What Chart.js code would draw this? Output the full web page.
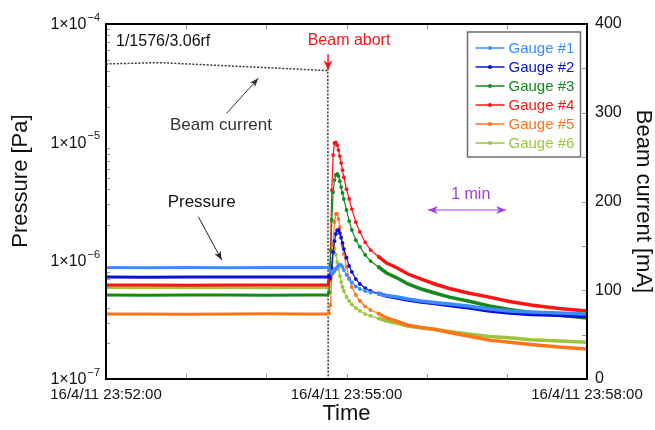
<!DOCTYPE html>
<html>
<head>
<meta charset="utf-8">
<script src="https://cdn.jsdelivr.net/npm/chart.js@4.4.1/dist/chart.umd.min.js"></script>
<style>
  html, body { margin: 0; padding: 0; background: #fff; }
  canvas { display: block; }
</style>
</head>
<body>
<canvas id="chartPressure" width="655" height="430" style="width:655px;height:430px"></canvas>
<script>
// ── Data: seconds after 16/4/11 23:52:00, pressures in units of 1e-7 Pa ──
const timeSec = [0, 30, 60, 90, 120, 150, 166,
  167, 168, 169, 170, 171, 172, 173, 174, 175, 176, 177, 178,
  180, 182, 184, 187, 190, 194, 198, 204, 210, 218, 226, 236, 246, 257, 271, 287, 302, 318, 339, 360];

const gaugeNames = ['Gauge #1', 'Gauge #2', 'Gauge #3', 'Gauge #4', 'Gauge #5', 'Gauge #6'];

const gauge1 = [8.74, 8.72, 8.75, 8.73, 8.74, 8.76, 8.74,
  8.66, 8.17, 7.86, 7.86, 8.17, 8.5, 8.83, 9.09, 9.27, 9.18, 8.83, 8.33,
  7.57, 6.99, 6.54, 6.05, 5.76, 5.54, 5.38, 5.23, 5.07, 4.93, 4.74, 4.56, 4.43, 4.31, 4.14, 3.90, 3.76, 3.69, 3.61, 3.54];
const gauge2 = [7.27, 7.25, 7.28, 7.26, 7.27, 7.29, 7.27,
  7.42, 7.13, 8.67, 11.8, 14.6, 16.8, 18.0, 18.2, 17.1, 15.6, 14.1, 12.6,
  10.6, 9.01, 8.02, 6.99, 6.35, 5.87, 5.54, 5.28, 5.03, 4.83, 4.65, 4.47, 4.35, 4.18, 3.99, 3.76, 3.61, 3.51, 3.45, 3.38];
const gauge3 = [5.12, 5.11, 5.13, 5.12, 5.10, 5.12, 5.12,
  5.43, 9.2, 22.1, 38, 48, 53, 54, 51.9, 47, 41.9, 37.3, 33.2,
  26.8, 21.6, 18.2, 14.9, 13.1, 11.2, 9.93, 8.84, 7.87, 7.13, 6.35, 5.76, 5.33, 4.92, 4.56, 4.14, 3.87, 3.65, 3.45, 3.28];
const gauge4 = [6.22, 6.23, 6.21, 6.22, 6.24, 6.22, 6.22,
  6.86, 12.3, 39.5, 78, 98.5, 100, 94.7, 86, 76.5, 66.8, 58.3, 50.8,
  40.2, 33.2, 27.3, 21.2, 17.5, 14.3, 12.3, 10.8, 9.55, 8.67, 7.71, 6.99, 6.35, 5.82, 5.33, 4.92, 4.52, 4.22, 3.94, 3.76];
const gauge5 = [3.54, 3.55, 3.53, 3.54, 3.56, 3.54, 3.54,
  3.61, 4.22, 7.57, 13.6, 21.2, 24.8, 24.8, 22.5, 19.2, 15.9, 13.3, 11.4,
  8.84, 7.13, 5.99, 5.12, 4.56, 4.10, 3.83, 3.58, 3.28, 3.06, 2.85, 2.73, 2.63, 2.47, 2.31, 2.13, 2.04, 1.96, 1.86, 1.79];
const gauge6 = [5.93, 5.92, 5.94, 5.93, 5.91, 5.93, 5.93,
  5.99, 6.86, 9.74, 12.3, 12.7, 11.2, 9.74, 8.5, 7.42, 6.6, 5.99, 5.54,
  4.93, 4.56, 4.26, 3.98, 3.76, 3.54, 3.41, 3.25, 3.09, 2.95, 2.80, 2.70, 2.62, 2.52, 2.40, 2.29, 2.23, 2.15, 2.09, 2.04];

// stored beam current [mA]
const beamTime    = [0, 40, 166, 166.3, 360];
const beamCurrent = [355, 356.5, 347.5, 0, 0];

// axis ticks
const xTickSec    = [0, 180, 360];
const xTickLabels = ['16/4/11 23:52:00', '16/4/11 23:55:00', '16/4/11 23:58:00'];
const pExponents  = [-7, -6, -5, -4];

const gaugeColors = ['#3c8cff', '#0b10d6', '#148a1e', '#ff1414', '#ff7419', '#9cc53b'];
const FONT = "'Liberation Sans', Arial, Helvetica, sans-serif";
const ABORT_SEC = 166.2;

const gaugeSeries = [gauge1, gauge2, gauge3, gauge4, gauge5, gauge6];

function arrowHead(ctx, x0, y0, x1, y1, len, half) {
  const a = Math.atan2(y1 - y0, x1 - x0);
  ctx.beginPath();
  ctx.moveTo(x1, y1);
  ctx.lineTo(x1 - len * Math.cos(a) + half * Math.sin(a), y1 - len * Math.sin(a) - half * Math.cos(a));
  ctx.lineTo(x1 - len * 0.7 * Math.cos(a), y1 - len * 0.7 * Math.sin(a));
  ctx.lineTo(x1 - len * Math.cos(a) - half * Math.sin(a), y1 - len * Math.sin(a) + half * Math.cos(a));
  ctx.closePath();
  ctx.fill();
}

function arrow(ctx, p0, p1, color, width, len, half, both) {
  ctx.strokeStyle = color; ctx.fillStyle = color; ctx.lineWidth = width;
  ctx.beginPath(); ctx.moveTo(p0[0], p0[1]); ctx.lineTo(p1[0], p1[1]); ctx.stroke();
  arrowHead(ctx, p0[0], p0[1], p1[0], p1[1], len, half);
  if (both) arrowHead(ctx, p1[0], p1[1], p0[0], p0[1], len, half);
}

// frame, inner ticks, exponent labels, annotations and legend
const decorPlugin = {
  id: 'decor',
  afterDraw(chart) {
    const { ctx, chartArea: a, scales } = chart;
    const sx = scales.x, sp = scales.y, sb = scales.y2;
    const at = (t, mA) => [sx.getPixelForValue(t), sb.getPixelForValue(mA)];
    ctx.save();

    // inner ticks
    ctx.strokeStyle = '#9a9a9a'; ctx.lineWidth = 1;
    ctx.beginPath();
    for (let t = 60; t < 360; t += 60) {
      const x = Math.round(sx.getPixelForValue(t)) + 0.5;
      ctx.moveTo(x, a.bottom); ctx.lineTo(x, a.bottom - 5);
      ctx.moveTo(x, a.top); ctx.lineTo(x, a.top + 5);
    }
    for (let i = 0; i < pExponents.length - 1; i++) {
      for (let m = 2; m <= 9; m++) {
        const y = Math.round(sp.getPixelForValue(m * Math.pow(10, pExponents[i]))) + 0.5;
        ctx.moveTo(a.left, y); ctx.lineTo(a.left + 4, y);
      }
    }
    for (let v = 50; v < 400; v += 50) {
      const y = Math.round(sb.getPixelForValue(v)) + 0.5;
      ctx.moveTo(a.right, y); ctx.lineTo(a.right - 5, y);
    }
    ctx.stroke();

    // frame
    ctx.strokeStyle = '#000'; ctx.lineWidth = 2;
    ctx.strokeRect(a.left, a.top, a.right - a.left, a.bottom - a.top);

    // left axis labels 1×10^n
    ctx.fillStyle = '#111'; ctx.textBaseline = 'middle'; ctx.textAlign = 'right';
    pExponents.forEach(e => {
      const y = sp.getPixelForValue(Math.pow(10, e));
      const sup = '\u2212' + Math.abs(e);
      ctx.font = '11px ' + FONT;
      const w = ctx.measureText(sup).width;
      ctx.fillText(sup, a.left - 6, y - 6);
      ctx.font = '16px ' + FONT;
      ctx.fillText('1\u00d710', a.left - 7 - w, y + 1);
    });

    // axis titles
    ctx.textAlign = 'center'; ctx.fillStyle = '#111'; ctx.font = '22px ' + FONT;
    ctx.save(); ctx.translate(21, 181); ctx.rotate(-Math.PI / 2); ctx.fillText('Pressure [Pa]', 0, 0); ctx.restore();
    ctx.save(); ctx.translate(643, (a.top + a.bottom) / 2); ctx.rotate(Math.PI / 2); ctx.fillText('Beam current [mA]', 0, 0); ctx.restore();
    ctx.fillText('Time', (a.left + a.right) / 2, 414);

    // annotations
    ctx.font = '16px ' + FONT; ctx.textAlign = 'left'; ctx.fillStyle = '#111';
    let p = at(7.5, 380); ctx.fillText('1/1576/3.06rf', p[0], p[1]);

    ctx.textAlign = 'center'; ctx.fillStyle = '#f01818';
    p = at(181.9, 381); ctx.fillText('Beam abort', p[0], p[1]);
    arrow(ctx, at(ABORT_SEC, 366), at(ABORT_SEC, 348), '#f01818', 1.5, 10, 4.5, false);

    ctx.font = '17px ' + FONT; ctx.fillStyle = '#333';
    p = at(86, 286); ctx.fillText('Beam current', p[0], p[1]);
    arrow(ctx, at(90.3, 299.4), at(114, 338.8), '#333', 1, 9, 3.5, false);

    ctx.fillStyle = '#111';
    p = at(71.6, 198.6); ctx.fillText('Pressure', p[0], p[1]);
    arrow(ctx, at(69.1, 182.9), at(86.6, 134.1), '#222', 1, 9, 3.5, false);

    ctx.font = '16px ' + FONT; ctx.fillStyle = '#a23fe0';
    p = at(273, 207.3); ctx.fillText('1 min', p[0], p[1]);
    arrow(ctx, at(241, 190.4), at(299.4, 190.4), '#a23fe0', 1.2, 10, 4, true);

    // legend
    const lx = 467.5, ly = 32, lw = 113, lh = 125;
    ctx.fillStyle = '#fff'; ctx.fillRect(lx, ly, lw, lh);
    ctx.strokeStyle = '#6e6e6e'; ctx.lineWidth = 1.5; ctx.strokeRect(lx, ly, lw, lh);
    ctx.font = '15px ' + FONT; ctx.textAlign = 'left';
    gaugeNames.forEach((name, i) => {
      const y = ly + 16 + i * 19;
      ctx.strokeStyle = gaugeColors[i]; ctx.fillStyle = gaugeColors[i]; ctx.lineWidth = 1.5;
      ctx.beginPath(); ctx.moveTo(lx + 8, y); ctx.lineTo(lx + 37, y); ctx.stroke();
      ctx.beginPath(); ctx.arc(lx + 22.5, y, 2, 0, Math.PI * 2); ctx.fill();
      ctx.fillText(name, lx + 41, y + 1);
    });
    ctx.restore();
  }
};

const gaugeDatasets = gaugeSeries.map((vals, i) => ({
  label: gaugeNames[i],
  data: timeSec.map((t, k) => ({ x: t, y: vals[k] * 1e-7 })),
  yAxisID: 'y',
  borderColor: gaugeColors[i],
  backgroundColor: gaugeColors[i],
  borderWidth: 3,
  tension: 0,
  pointRadius: c => (c.raw && c.raw.x > ABORT_SEC && c.raw.x <= 205 ? 1.9 : 0),
  pointBorderWidth: 0,
  pointHoverRadius: 0,
  segment: {
    borderWidth: c => {
      const t = c.p0.parsed.x;
      return t < ABORT_SEC ? 3 : (t < 204 ? 1.2 : 3.5);
    }
  }
}));

const beamDataset = {
  label: 'Beam current',
  data: beamTime.map((t, k) => ({ x: t, y: beamCurrent[k] })),
  yAxisID: 'y2',
  borderColor: '#3a3a3a',
  borderWidth: 1.5,
  borderDash: [2, 1.6],
  pointRadius: 0,
  tension: 0
};

new Chart(document.getElementById('chartPressure'), {
  type: 'line',
  data: { datasets: [...gaugeDatasets, beamDataset] },
  options: {
    responsive: false,
    animation: false,
    devicePixelRatio: 1,
    layout: { padding: { top: 24, left: 0, right: 0, bottom: 0 } },
    plugins: { legend: { display: false }, tooltip: { enabled: false } },
    scales: {
      x: {
        type: 'linear', min: 0, max: 360,
        grid: { display: false, drawTicks: false },
        border: { display: false },
        ticks: {
          stepSize: 60, autoSkip: false, maxRotation: 0, minRotation: 0, padding: 7,
          color: '#111', font: { family: FONT, size: 15 },
          callback: v => { const k = xTickSec.indexOf(v); return k >= 0 ? xTickLabels[k] : ''; }
        },
        afterFit: s => { s.height = 51; }
      },
      y: {
        type: 'logarithmic', position: 'left', min: 1e-7, max: 1e-4,
        grid: { display: false, drawTicks: false },
        border: { display: false },
        ticks: { display: false },
        afterFit: s => { s.width = 106; }
      },
      y2: {
        type: 'linear', position: 'right', min: 0, max: 400,
        grid: { display: false, drawTicks: false },
        border: { display: false },
        ticks: { stepSize: 100, padding: 8, color: '#111', font: { family: FONT, size: 16 } },
        afterFit: s => { s.width = 68; }
      }
    }
  },
  plugins: [decorPlugin]
});
</script>
</body>
</html>
